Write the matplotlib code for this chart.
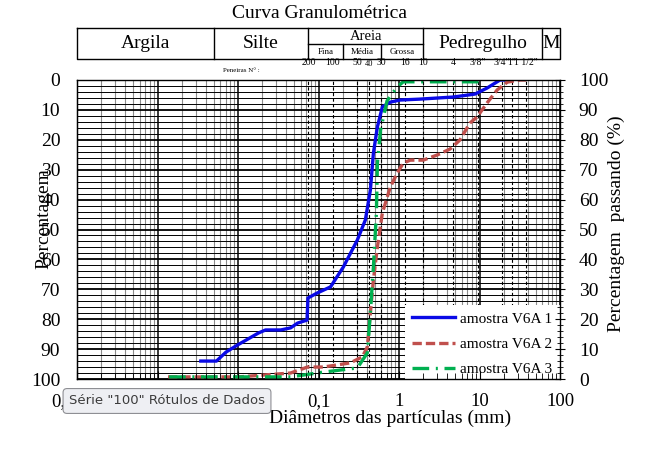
import numpy as np
import matplotlib
matplotlib.use("Agg")
import matplotlib.pyplot as plt
import matplotlib.transforms as mtransforms
from matplotlib.ticker import FixedLocator, NullFormatter, MultipleLocator

plt.rcParams['font.family'] = ['Liberation Serif', 'DejaVu Serif']

# granulometric curves: diameter (mm) vs percent passing
blue_d = [0.00345, 0.0054, 0.0071, 0.0099, 0.018, 0.022, 0.034, 0.045, 0.055,
          0.072, 0.074, 0.097, 0.141, 0.204, 0.304, 0.382, 0.441, 0.481, 0.539,
          0.621, 0.78, 1.03, 1.79, 4.7, 8.8, 12.4, 18.0, 25.4]
blue_p = [6.0, 6.0, 9.0, 11.4, 15.4, 16.4, 16.4, 17.1, 18.7,
          19.7, 27.1, 28.8, 30.8, 37.5, 46.5, 53.2, 63.2, 75.6, 84.3,
          91.0, 92.6, 93.3, 93.6, 94.3, 95.3, 97.3, 100, 100]

red_d = [0.00135, 0.0102, 0.045, 0.073, 0.115, 0.249, 0.35, 0.404, 0.441, 0.481,
         0.539, 0.621, 0.78, 0.95, 1.13, 1.38, 2.0, 2.97, 4.3, 5.7, 7.6, 9.3,
         12.4, 16.6, 22.2, 32.0, 38.1]
red_p = [0.7, 0.7, 2.0, 4.0, 4.0, 5.4, 7.4, 10.7, 22.1, 33.1,
         44.1, 55.5, 64.2, 68.9, 72.2, 73.2, 73.2, 74.9, 76.9, 79.9, 85.6, 87.6,
         92.3, 96.7, 99.3, 100, 100]

green_d = [0.00139, 0.045, 0.115, 0.304, 0.404, 0.441, 0.481, 0.524, 0.539,
           0.59, 0.71, 0.95, 1.13, 2.4, 10.0]
green_p = [0.7, 0.7, 2.3, 3.7, 8.7, 22.1, 37.5, 55.5, 72.2,
           83.3, 93.0, 97.7, 99.4, 99.4, 99.4]

series_names = ['amostra V6A 1', 'amostra V6A 2', 'amostra V6A 3']

x_ticks = [0.0001, 0.001, 0.01, 0.1, 1, 10, 100]
x_labels = ['0,0001', '0,001', '0,01', '0,1', '1', '10', '100']

sieve_mm = [0.075, 0.15, 0.3, 0.425, 0.6, 1.18, 2.0, 4.75, 9.5, 19.0, 25.4, 38.1]
sieve_labels = ['200', '100', '50', '40', '30', '16', '10', '4',
                '3/8"', '3/4"', '1"', '1 1/2"']

class_names = ['Argila', 'Silte', 'Areia', 'Pedregulho', 'M']
class_bounds = [0.0001, 0.005, 0.075, 2.0, 60, 100]
sand_names = ['Fina', 'Média', 'Grossa']
sand_bounds = [0.075, 0.2, 0.6, 2.0]

W, H = 659, 450
fig = plt.figure(figsize=(W / 100, H / 100), dpi=100)
ax = fig.add_axes([77 / W, 1 - 379 / H, (560 - 77) / W, (379 - 80) / H])

ax.set_xscale('log')
ax.set_xlim(0.0001, 100)
ax.set_ylim(0, 100)

# grid drawn by hand so the legend can hide it while ticks stay visible
minor_x = [m * 10.0 ** e for e in range(-4, 2) for m in range(2, 10)]
for v in minor_x:
    ax.axvline(v, color='#8c8c8c', lw=0.8, zorder=1)
for v in x_ticks:
    ax.axvline(v, color='black', lw=1.1, zorder=1.05)
for v in range(0, 101, 2):
    ax.axhline(v, color='black', lw=1.3 if v % 10 == 0 else 0.7, zorder=1.05)
for v in sieve_mm:
    ax.axvline(v, color='black', lw=0.8, ls=(0, (3, 2)), zorder=1.1)

ax.plot(blue_d, blue_p, color='#0a0ae6', lw=2.4, zorder=2, label=series_names[0])
ax.plot(red_d, red_p, color='#c0504d', lw=2.4, dashes=(2.8, 1.2),
        zorder=2, label=series_names[1])
ax.plot(green_d, green_p, color='#00b050', lw=2.4, dashes=(5.0, 2.0, 0.6, 2.0),
        zorder=2, label=series_names[2])

ax.set_axisbelow(False)
for sp in ax.spines.values():
    sp.set_zorder(3)
    sp.set_linewidth(1.0)

ax.xaxis.set_major_locator(FixedLocator(x_ticks))
ax.set_xticklabels(x_labels)
ax.xaxis.set_minor_locator(FixedLocator(minor_x))
ax.xaxis.set_minor_formatter(NullFormatter())
ax.tick_params(axis='x', which='major', direction='in', length=6, pad=10,
               labelsize=13.5, color='black')
ax.tick_params(axis='x', which='minor', direction='in', length=4, color='black')

ax.yaxis.tick_right()
ax.set_yticks(range(0, 101, 10))
ax.yaxis.set_minor_locator(MultipleLocator(2))
ax.tick_params(axis='y', which='major', direction='inout', length=7, pad=10,
               labelsize=14)
ax.tick_params(axis='y', which='minor', direction='inout', length=4)

sec = ax.secondary_yaxis('left', functions=(lambda y: 100 - y, lambda y: 100 - y))
sec.set_yticks(range(0, 101, 10))
sec.tick_params(length=0, pad=12, labelsize=14)

leg = ax.legend(loc='lower right', bbox_to_anchor=(1, -0.016), borderaxespad=0,
                frameon=True, fontsize=11, handlelength=2.8, handletextpad=0.33,
                labelspacing=0.75, borderpad=0.5, fancybox=False)
leg.get_frame().set_facecolor('white')
leg.get_frame().set_edgecolor('none')
leg.get_frame().set_alpha(1)
leg.set_zorder(2.2)

# axis titles
fig.text(44 / W, 1 - 219 / H, 'Percentagem', rotation=90, ha='center',
         va='center', fontsize=14)
fig.text(616 / W, 1 - 224 / H, 'Percentagem  passando (%)', rotation=90,
         ha='center', va='center', fontsize=14)
fig.text(390 / W, 1 - 418 / H, 'Diâmetros das partículas (mm)', ha='center',
         va='center', fontsize=14)
fig.text(320 / W, 1 - 14 / H, 'Curva Granulométrica', ha='center', va='center',
         fontsize=14)

# soil class table above the plot
trans = mtransforms.blended_transform_factory(ax.transData, fig.transFigure)
top, mid, bot = 1 - 28 / H, 1 - 44 / H, 1 - 59 / H
ax.plot([class_bounds[0], class_bounds[-1], class_bounds[-1], class_bounds[0],
         class_bounds[0]], [top, top, bot, bot, top], transform=trans,
        clip_on=False, color='black', lw=1)
for b in class_bounds[1:-1]:
    ax.plot([b, b], [top, bot], transform=trans, clip_on=False, color='black', lw=1)
ax.plot([sand_bounds[0], sand_bounds[-1]], [mid, mid], transform=trans,
        clip_on=False, color='black', lw=1)
for b in sand_bounds[1:-1]:
    ax.plot([b, b], [mid, bot], transform=trans, clip_on=False, color='black', lw=1)
for name, a, b in zip(class_names, class_bounds[:-1], class_bounds[1:]):
    xc = np.sqrt(a * b)
    if name == 'Areia':
        ax.text(xc, 1 - 36 / H, name, transform=trans, ha='center', va='center',
                fontsize=10.5)
    else:
        ax.text(xc, (top + bot) / 2, name, transform=trans, ha='center',
                va='center', fontsize=14)
for name, a, b in zip(sand_names, sand_bounds[:-1], sand_bounds[1:]):
    ax.text(np.sqrt(a * b), 1 - 52 / H, name, transform=trans, ha='center',
            va='center', fontsize=6.5)

for d, lab in zip(sieve_mm, sieve_labels):
    small = lab == '40'
    ax.text(d, 1 - (64 if small else 62.5) / H, lab, transform=trans, ha='center',
            va='center', fontsize=6 if small else 7)
fig.text(241 / W, 1 - 70 / H, 'Peneiras N° :', ha='center', va='center',
         fontsize=5)

# tooltip left over from the spreadsheet screenshot
fig.text(69 / W, 1 - 401 / H, 'Série "100" Rótulos de Dados', ha='left',
         va='center', fontsize=9.5, family=['DejaVu Sans'], color='#3c3c3c',
         bbox=dict(boxstyle='round,pad=0.45,rounding_size=0.3', fc='#eeeff3',
                   ec='#8e8f94', lw=0.8), zorder=10)

fig.savefig('out.png', dpi=100)
